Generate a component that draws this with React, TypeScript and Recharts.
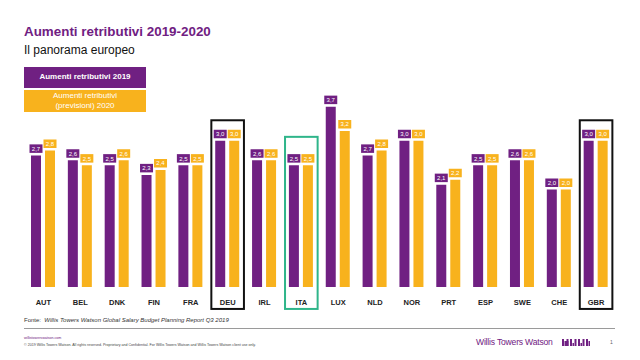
import React from "react";
import {
  BarChart,
  Bar,
  XAxis,
  YAxis,
  LabelList,
  Legend,
  ReferenceArea,
} from "recharts";

const categories = ["AUT", "BEL", "DNK", "FIN", "FRA", "DEU", "IRL", "ITA", "LUX", "NLD", "NOR", "PRT", "ESP", "SWE", "CHE", "GBR"];
const aumenti2019 = [2.7, 2.6, 2.5, 2.3, 2.5, 3.0, 2.6, 2.5, 3.7, 2.7, 3.0, 2.1, 2.5, 2.6, 2.0, 3.0];
const previsioni2020 = [2.8, 2.5, 2.6, 2.4, 2.5, 3.0, 2.6, 2.5, 3.2, 2.8, 3.0, 2.2, 2.5, 2.6, 2.0, 3.0];

// paesi evidenziati con un riquadro
const highlightCats = ["DEU", "ITA", "GBR"];
const highlightTop = [3.42, 3.08, 3.42];
const highlightColors = ["#111111", "#2fb58a", "#111111"];

const PURPLE = "#702082";
const YELLOW = "#f8b21d";
const FONT = "'Liberation Sans', Arial, sans-serif";

const CHART_W = 640;
const MARGIN = { top: 92, right: 25.5, bottom: 0, left: 25 };
const BAND = (CHART_W - MARGIN.left - MARGIN.right) / categories.length;

const data = categories.map((c, i) => ({
  paese: c,
  v2019: aumenti2019[i],
  v2020: previsioni2020[i],
}));

const fmt = (v: number) => v.toFixed(1).replace(".", ",");

function valueLabel(color: string) {
  return (props: any) => {
    const { x, y, width, value } = props;
    const cx = Number(x) + Number(width) / 2;
    const top = Number(y);
    return (
      <g>
        <rect x={cx - 6.5} y={top - 11} width={13} height={8.5} fill={color} />
        <text x={cx} y={top - 4.6} textAnchor="middle" fontSize={6} fill="#fff" fontFamily={FONT}>
          {fmt(Number(value))}
        </text>
      </g>
    );
  };
}

function CategoryTick({ x, y, payload }: any) {
  return (
    <text x={x} y={y + 18} textAnchor="middle" fontSize={7.5} fontWeight="bold" fill="#222" fontFamily={FONT}>
      {payload.value}
    </text>
  );
}

function HighlightBox(color: string) {
  return (props: any) => {
    const { x, y, width, height } = props;
    const w = Number(width) > 1 ? Number(width) : BAND;
    const cx = Number(x) + w / 2;
    return (
      <rect x={cx - 16.3} y={y} width={32.6} height={height} fill="none" stroke={color} strokeWidth={2} />
    );
  };
}

function LegendBoxes() {
  const base: React.CSSProperties = {
    color: "#fff",
    fontSize: 8,
    fontFamily: FONT,
    display: "flex",
    alignItems: "center",
    justifyContent: "center",
    textAlign: "center",
    lineHeight: "10px",
  };
  return (
    <div style={{ width: 122 }}>
      <div style={{ ...base, background: PURPLE, height: 21.5, fontWeight: "bold" }}>
        Aumenti retributivi 2019
      </div>
      <div style={{ ...base, background: YELLOW, height: 22.5, marginTop: 1.5 }}>
        Aumenti retributivi
        <br />
        (previsioni) 2020
      </div>
    </div>
  );
}

function LogoMark() {
  const bars = [
    [0, 2, 7], [2.5, 4, 5], [4.5, 2, 7], [8, 2, 7], [10.5, 1.5, 3], [12.5, 2, 7],
    [16, 2, 7], [18.5, 1.5, 3], [20.5, 2, 7], [24, 2, 7], [26.5, 1.5, 5],
  ];
  return (
    <svg width={30} height={8} style={{ position: "absolute", left: 562, top: 338 }}>
      {bars.map((b, i) => (
        <rect key={i} x={b[0]} y={8 - b[2]} width={b[1]} height={b[2]} fill={PURPLE} />
      ))}
    </svg>
  );
}

export default function App() {
  return (
    <div
      style={{
        position: "absolute",
        left: 0,
        top: 0,
        width: 640,
        height: 360,
        background: "#fff",
        fontFamily: FONT,
        overflow: "hidden",
      }}
    >
      <div style={{ position: "absolute", left: 24, top: 24, fontSize: 13.4, fontWeight: "bold", color: PURPLE }}>
        Aumenti retributivi 2019-2020
      </div>
      <div style={{ position: "absolute", left: 24, top: 42.5, fontSize: 12, color: "#111" }}>
        Il panorama europeo
      </div>

      <div style={{ position: "absolute", left: 0, top: 0 }}>
        <BarChart
          width={CHART_W}
          height={360}
          data={data}
          margin={MARGIN}
          barSize={10}
          barGap={4}
        >
          <XAxis
            dataKey="paese"
            axisLine={false}
            tickLine={false}
            tickSize={0}
            tickMargin={0}
            height={73}
            interval={0}
            tick={<CategoryTick />}
          />
          <YAxis hide domain={[0, 4]} />
          <Legend
            layout="vertical"
            align="center"
            verticalAlign="middle"
            wrapperStyle={{ left: 24, top: 66.5, width: 122 }}
            content={() => <LegendBoxes />}
          />
          {highlightCats.map((c, i) => (
            <ReferenceArea
              key={c}
              x1={c}
              x2={c}
              y1={-0.45}
              y2={highlightTop[i]}
              ifOverflow="visible"
              shape={HighlightBox(highlightColors[i])}
            />
          ))}
          <Bar dataKey="v2019" name="Aumenti retributivi 2019" fill={PURPLE} isAnimationActive={false}>
            <LabelList dataKey="v2019" content={valueLabel(PURPLE)} />
          </Bar>
          <Bar dataKey="v2020" name="Aumenti retributivi (previsioni) 2020" fill={YELLOW} isAnimationActive={false}>
            <LabelList dataKey="v2020" content={valueLabel(YELLOW)} />
          </Bar>
        </BarChart>
      </div>

      <div style={{ position: "absolute", left: 24, top: 317, fontSize: 6, color: "#333" }}>
        Fonte:&nbsp; <i>Willis Towers Watson Global Salary Budget Planning Report Q3 2019</i>
      </div>
      <div style={{ position: "absolute", left: 24, top: 328, width: 591, height: 1, background: "#9a9a9a" }} />
      <div style={{ position: "absolute", left: 24, top: 336, fontSize: 3.6, color: PURPLE }}>
        willistowerswatson.com
      </div>
      <div style={{ position: "absolute", left: 24, top: 343, fontSize: 3.6, color: "#444", whiteSpace: "nowrap" }}>
        © 2019 Willis Towers Watson. All rights reserved. Proprietary and Confidential. For Willis Towers Watson and Willis Towers Watson client use only.
      </div>
      <div style={{ position: "absolute", left: 476, top: 337, fontSize: 8.6, color: PURPLE, letterSpacing: -0.2 }}>
        Willis Towers Watson
      </div>
      <LogoMark />
      <div style={{ position: "absolute", left: 610, top: 339, fontSize: 5, color: "#666" }}>1</div>
    </div>
  );
}
